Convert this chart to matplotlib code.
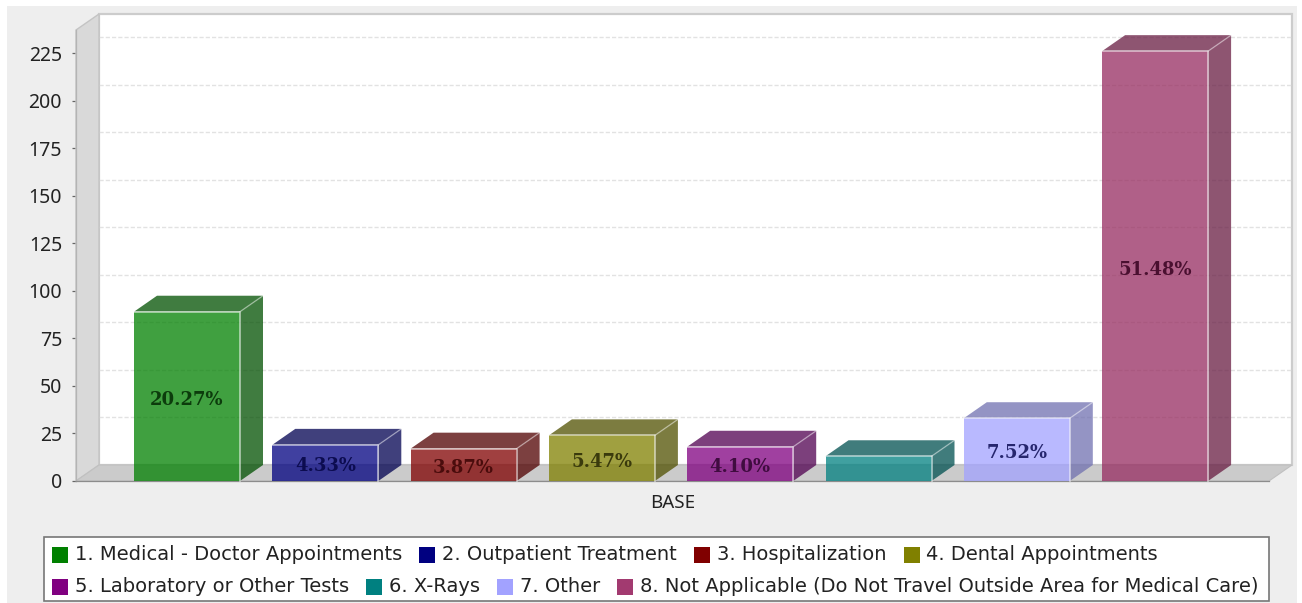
import matplotlib
matplotlib.use("Agg")
import matplotlib.pyplot as plt
from matplotlib.patches import Polygon, Rectangle

W, H = 1302, 603

# ---- data -----
categories = ["1. Medical - Doctor Appointments", "2. Outpatient Treatment", "3. Hospitalization",
              "4. Dental Appointments", "5. Laboratory or Other Tests", "6. X-Rays", "7. Other",
              "8. Not Applicable (Do Not Travel Outside Area for Medical Care)"]
values = [89, 19, 17, 24, 18, 13, 33, 226]
labels = ["20.27%", "4.33%", "3.87%", "5.47%", "4.10%", "", "7.52%", "51.48%"]
colors = ["#008000", "#000080", "#800000", "#808000", "#800080", "#008080", "#a2a2ff", "#962b60"]
dark_colors = ["#005000", "#000050", "#500000", "#505000", "#500050", "#005050", "#7070b0", "#681c42"]
label_colors = ["#0c3c0c", "#0c0c50", "#4a0c0c", "#3a3a0c", "#400c40", "#0c4040", "#26266e", "#4a1030"]
yticks = [0, 25, 50, 75, 100, 125, 150, 175, 200, 225]
legend_rows = [[0, 1, 2, 3], [4, 5, 6, 7]]

# ---- layout -----
X0, X1, Y0, Y1 = 76, 1269, 481, 30      # front plane in pixels
PX_PER_UNIT = 1.902
STEP = 138.3
FIRST = 187.0
DX_PX, DY_PX = 23.0, 16.0
FONT = "Noto Sans"
LEGEND_FONT = "DejaVu Sans"

fig = plt.figure(figsize=(W / 100, H / 100), dpi=100, facecolor="white")
fig.add_artist(Rectangle((7 / W, 0), (1297 - 7) / W, (H - 6) / H, transform=fig.transFigure,
                         fc="#eeeeee", ec="none", zorder=-10))

ax = fig.add_axes([X0 / W, 1 - Y0 / H, (X1 - X0) / W, (Y0 - Y1) / H])
ax.patch.set_visible(False)
ax.set_xlim((X0 - FIRST) / STEP, (X1 - FIRST) / STEP)
ytop = (Y0 - Y1) / PX_PER_UNIT
ax.set_ylim(0, ytop)
xl, xr = ax.get_xlim()
dx, dy = DX_PX / STEP, DY_PX / PX_PER_UNIT
bw = 106 / STEP


def poly(pts, **kw):
    ax.add_patch(Polygon(pts, closed=True, clip_on=False, **kw))


# walls and floor
poly([(xl + dx, dy), (xr + dx, dy), (xr + dx, ytop + dy), (xl + dx, ytop + dy)],
     fc="white", ec="#cccccc", lw=1.6, zorder=1)
poly([(xl, 0), (xl, ytop), (xl + dx, ytop + dy), (xl + dx, dy)], fc="#d9d9d9", ec="#c4c4c4", lw=1.0, zorder=2)
poly([(xl, 0), (xr, 0), (xr + dx, dy), (xl + dx, dy)], fc="#cbcbcb", ec="#c0c0c0", lw=0.8, zorder=2)
for v in yticks[1:]:
    ax.plot([xl + dx, xr + dx], [v + dy, v + dy], color="#e2e2e2", lw=1.0, ls=(0, (3, 1.5)),
            clip_on=False, zorder=1.5)

# bars
for i, (v, c, dc) in enumerate(zip(values, colors, dark_colors)):
    l, r = i - bw / 2, i + bw / 2
    poly([(r, 0), (r + dx, dy), (r + dx, v + dy), (r, v)], fc=dc, ec="none", alpha=0.75, zorder=3)
    poly([(l, v), (r, v), (r + dx, v + dy), (l + dx, v + dy)], fc=dc, ec="none", alpha=0.75, zorder=3)
    poly([(l, 0), (r, 0), (r, v), (l, v)], fc=c, ec="none", alpha=0.75, zorder=3)
    ax.plot([l, r, r], [v, v, 0], color="white", alpha=0.6, lw=1.2, zorder=4, clip_on=False)
    ax.plot([r, r + dx], [v, v + dy], color="white", alpha=0.4, lw=1.0, zorder=4, clip_on=False)
    ax.annotate(labels[i], (i, v / 2), xytext=(0, -2.5), textcoords="offset points",
                ha="center", va="center", family="DejaVu Serif", weight="bold",
                fontsize=13, color=label_colors[i], zorder=5)

# axes
for s in ("top", "right"):
    ax.spines[s].set_visible(False)
ax.spines["left"].set_color("#b4b4b4")
ax.spines["left"].set_linewidth(0.9)
ax.spines["left"].set_zorder(2.5)
ax.spines["bottom"].set_color("#8c8c8c")
ax.spines["bottom"].set_linewidth(0.9)
ax.spines["bottom"].set_zorder(2.5)
ax.set_xticks([])
ax.set_yticks(yticks)
ax.tick_params(axis="y", length=3, width=0.9, color="#666666", pad=7, labelsize=14, labelcolor="#222222")
for t in ax.get_yticklabels():
    t.set_family(FONT)
ax.set_xlabel("BASE", family=FONT, fontsize=13.5, color="#222222", labelpad=9)

# legend: flowed rows inside a framed box
fig.add_artist(Rectangle((44 / W, 1 - 601 / H), (1269 - 44) / W, (601 - 537) / H, transform=fig.transFigure,
                         fc="white", ec="#777777", lw=1.2))
renderer = fig.canvas.get_renderer()
GAP = 17
for row, y in zip(legend_rows, (555, 587)):
    x = 52
    for i in row:
        fig.add_artist(Rectangle((x / W, 1 - (y + 8) / H), 16 / W, 16 / H, transform=fig.transFigure,
                                 fc=colors[i] if i != 7 else "#a23a70", ec="none"))
        t = fig.text((x + 23) / W, 1 - y / H, categories[i], family=LEGEND_FONT, fontsize=14.0, color="#222222",
                     ha="left", va="center")
        x += 23 + t.get_window_extent(renderer).width + GAP

fig.savefig("out.png", dpi=100, facecolor=fig.get_facecolor())
